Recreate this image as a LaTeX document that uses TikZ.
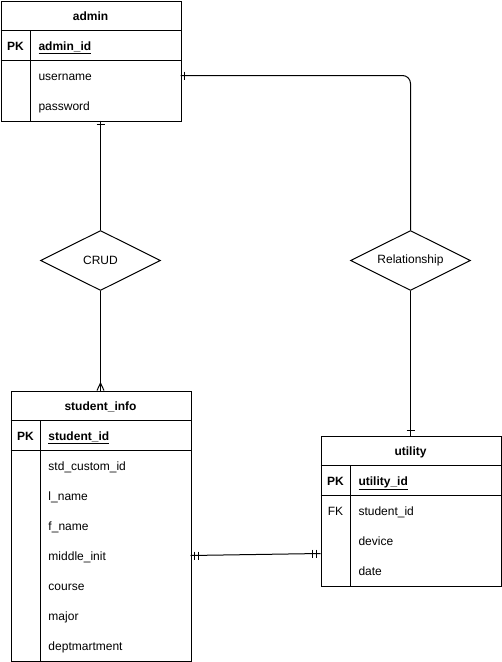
\documentclass[tikz,border=0pt]{standalone}
\usepackage{fontspec}
\setmainfont{Liberation Sans}
\usetikzlibrary{shapes.geometric}
\begin{document}
\begin{tikzpicture}[x=1pt,y=-1pt,line width=1pt,
  font=\fontsize{12}{14}\selectfont,
  tbl/.style={draw,inner sep=0pt,anchor=north west},
  ttl/.style={font=\fontsize{12}{14}\selectfont\bfseries,inner sep=0pt,anchor=base},
  key/.style={font=\fontsize{12}{14}\selectfont\bfseries,inner sep=0pt,anchor=base},
  fld/.style={anchor=base west,inner sep=0pt},
  rel/.style={diamond,draw,aspect=2,inner sep=0pt,minimum width=120pt,minimum height=60pt}]
\useasboundingbox (0,0) rectangle (502,662);
% admin
\node[tbl,minimum width=180pt,minimum height=120pt] (admin) at (0.5,0.5) {};
\draw (0.5,30.5) -- (180.5,30.5);
\draw (0.5,60.5) -- (180.5,60.5);
\draw (30.5,30.5) -- (30.5,120.5);
\node[ttl] (adminT) at (90.5,20) {admin};
\node[key] (adminPK) at (15.5,50) {PK};
\node[fld,font=\fontsize{12}{14}\selectfont\bfseries] (adminF1) at (38,50) {\underline{admin\_id}};
\node[fld] (adminF2) at (38,80) {username};
\node[fld] (adminF3) at (38,110) {password};
% student_info
\node[tbl,minimum width=180pt,minimum height=270pt] (si) at (10.5,390.5) {};
\draw (10.5,420.5) -- (190.5,420.5);
\draw (10.5,450.5) -- (190.5,450.5);
\draw (40.5,420.5) -- (40.5,660.5);
\node[ttl] (siT) at (100.5,410) {student\_info};
\node[key] (siPK) at (25.5,440) {PK};
\node[fld,font=\fontsize{12}{14}\selectfont\bfseries] (siF1) at (48,440) {\underline{student\_id}};
\node[fld] (siF2) at (48,470) {std\_custom\_id};
\node[fld] (siF3) at (48,500) {l\_name};
\node[fld] (siF4) at (48,530) {f\_name};
\node[fld] (siF5) at (48,560) {middle\_init};
\node[fld] (siF6) at (48,590) {course};
\node[fld] (siF7) at (48,620) {major};
\node[fld] (siF8) at (48,650) {deptmartment};
% utility
\node[tbl,minimum width=180pt,minimum height=150pt] (ut) at (320.5,435.5) {};
\draw (320.5,465.5) -- (500.5,465.5);
\draw (320.5,495.5) -- (500.5,495.5);
\draw (350.5,465.5) -- (350.5,585.5);
\node[ttl] (utT) at (410.5,455) {utility};
\node[key] (utPK) at (335.5,485) {PK};
\node[fld,font=\fontsize{12}{14}\selectfont\bfseries] (utF1) at (358,485) {\underline{utility\_id}};
\node[inner sep=0pt,anchor=base] (utFK) at (335.5,515) {FK};
\node[fld] (utF2) at (358,515) {student\_id};
\node[fld] (utF3) at (358,545) {device};
\node[fld] (utF4) at (358,575) {date};
% relationships
\node[rel] (crud) at (100.5,260.5) {CRUD};
\node[rel] (relship) at (410.5,260.5) {Relationship};
% connector end points
\coordinate (aB) at (100.5,120.5);
\coordinate (aR) at (180.5,75.5);
\coordinate (siTop) at (100.5,390.5);
\coordinate (utTop) at (410.5,435.5);
\coordinate (siR) at (190.5,555.5);
\coordinate (utL) at (320.5,553.5);
% admin -- CRUD (one)
\draw (aB) -- (crud.north);
\draw (96.5,124.5) -- (104.5,124.5);
% CRUD -- student_info (many)
\draw (crud.south) -- (siTop);
\draw (97,390.5) -- (100.5,383) -- (104,390.5);
% admin -- Relationship (one)
\draw[rounded corners=8pt] (aR) -- (410.5,75.5) -- (relship.north);
\draw (184.5,71.5) -- (184.5,79.5);
% Relationship -- utility (one)
\draw (relship.south) -- (utTop);
\draw (406.5,430.5) -- (414.5,430.5);
% student_info -- utility (mandatory one both ends)
\draw (siR) -- (utL);
\draw (194.5,551.5) -- (194.5,559.5);
\draw (198.5,551.5) -- (198.5,559.5);
\draw (312.5,549.5) -- (312.5,557.5);
\draw (316.5,549.5) -- (316.5,557.5);
\end{tikzpicture}
\end{document}
